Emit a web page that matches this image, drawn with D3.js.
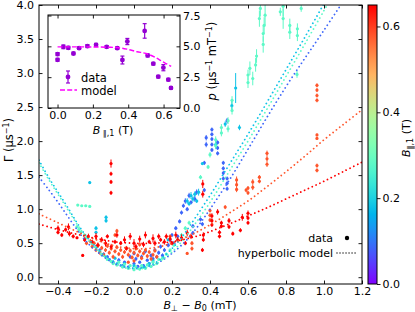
<!DOCTYPE html>
<html>
<head>
<meta charset="utf-8">
<script src="https://cdn.jsdelivr.net/npm/d3@7"></script>
<style>
  body { margin: 0; background: #fff; }
  text { font-family: "DejaVu Sans", sans-serif; }
</style>
</head>
<body>
<div id="chart"></div>
<script>
// ---- data ----
// in-plane field of each measured series (T), used for the colour
const seriesField = [0.085, 0.18, 0.28, 0.58, 0.65];

// [B_perp - B0 (mT), Gamma (us^-1), error]
const bluePoints = [
  [-0.2,0.45,0.02],[-0.18,0.4,0.02],[-0.16,0.34,0.02],[-0.14,0.3,0.02],[-0.13,0.26,0.02],[-0.11,0.22,0.02],
  [-0.09,0.19,0.02],[-0.08,0.25,0.03],[-0.06,0.17,0.02],[-0.05,0.22,0.02],[-0.03,0.15,0.02],[-0.02,0.3,0.03],
  [0.0,0.2,0.02],[0.0,0.35,0.03],[0.01,0.27,0.03],[0.02,0.16,0.02],[0.03,0.22,0.02],[0.04,0.3,0.03],
  [0.05,0.17,0.02],[0.06,0.38,0.03],[0.07,0.25,0.02],[0.08,0.2,0.02],[0.09,0.32,0.03],[0.1,0.27,0.03],
  [0.11,0.4,0.03],[0.12,0.3,0.02],[0.13,0.36,0.03],[0.14,0.45,0.03],[0.15,0.32,0.03],[0.16,0.4,0.03],
  [0.18,0.47,0.03],[0.19,0.55,0.03],[0.2,0.62,0.03],[0.21,0.5,0.03],[0.22,0.72,0.03],[0.23,0.6,0.03],
  [0.24,0.82,0.03],[0.25,0.95,0.03],[0.26,1.05,0.03],[0.27,1.12,0.04],[0.28,1.0,0.03],[0.29,1.2,0.04],
  [0.3,1.1,0.03],[0.31,0.75,0.03],[0.31,0.65,0.03],[0.32,1.15,0.04],[0.33,1.25,0.04],[0.35,0.85,0.03],
  [0.36,0.78,0.03],[0.37,1.68,0.03],[0.37,1.28,0.03],[0.38,1.95,0.04],[0.38,2.05,0.04],[0.41,1.87,0.03],
  [0.41,1.95,0.03],[0.41,2.03,0.03],[0.41,2.1,0.03],[0.41,2.17,0.03],[0.44,1.82,0.03],[0.44,1.9,0.03],
  [0.44,1.98,0.03],[0.47,1.45,0.03],[0.47,1.53,0.03],[0.47,1.6,0.03],[0.47,1.68,0.03],[0.49,1.3,0.03],
  [0.49,1.38,0.03],[0.49,1.45,0.03],[0.49,2.3,0.04]
];
const cyanPoints = [
  [-0.233,1.39,0.02],[-0.2,0.72,0.03],[-0.2,0.66,0.02],[-0.147,0.88,0.03],[-0.147,0.83,0.03],
  [-0.1,0.28,0.02],[-0.05,0.2,0.02],[0.0,0.17,0.02],[0.05,0.15,0.02],[0.08,0.2,0.02],[0.1,0.24,0.02],
  [0.18,0.55,0.02],[0.28,1.12,0.04],[0.29,1.08,0.03],[0.3,1.2,0.05],[0.31,1.15,0.04],[0.32,1.22,0.04],
  [0.33,1.12,0.03],[0.34,1.25,0.05],[0.36,1.67,0.02],[0.43,1.95,0.06],[0.48,2.25,0.04],[0.515,2.52,0.08],
  [0.535,2.78,0.22],[0.555,2.2,0.04]
];
const greenPoints = [
  [-0.22,0.5,0.02],[-0.2,0.44,0.02],[-0.18,0.38,0.02],[-0.17,0.33,0.02],[-0.15,0.3,0.02],[-0.14,0.26,0.02],
  [-0.12,0.23,0.02],[-0.11,0.2,0.02],[-0.09,0.18,0.02],[-0.08,0.22,0.02],[-0.06,0.15,0.02],[-0.05,0.19,0.02],
  [-0.03,0.13,0.02],[-0.02,0.17,0.02],[0.0,0.11,0.02],[0.01,0.15,0.02],[0.03,0.12,0.02],[0.04,0.17,0.02],
  [0.06,0.13,0.02],[0.07,0.18,0.02],[0.09,0.16,0.02],[0.1,0.22,0.02],[0.12,0.2,0.02],[0.13,0.26,0.02],
  [0.15,0.28,0.02],[0.17,0.34,0.02],[0.19,0.4,0.02],[0.21,0.47,0.02],[0.23,0.55,0.03],[0.25,0.62,0.03],
  [0.27,0.72,0.03],[0.29,0.8,0.03],
  [-0.3,0.74,0.02],[-0.29,0.7,0.02],[-0.28,0.66,0.02],[-0.26,0.62,0.02],[-0.25,0.58,0.02],
  [-0.296,1.06,0.01],[-0.275,1.05,0.01],[-0.254,1.05,0.01],[-0.233,1.04,0.01],
  [0.35,1.47,0.03],[0.39,1.62,0.03],[0.4,1.8,0.04],[0.43,1.93,0.05],[0.43,2.02,0.05],[0.46,2.12,0.05],
  [0.46,2.2,0.05],[0.495,2.18,0.05],[0.495,2.3,0.05],[0.516,2.45,0.06],[0.516,2.6,0.06],[0.6,2.86,0.08],
  [0.6,2.97,0.08],[0.61,3.07,0.1],[0.625,2.92,0.1],[0.64,3.12,0.1],[0.645,3.25,0.1],[0.66,3.8,0.12],
  [0.665,3.95,0.12],[0.68,3.42,0.12],[0.68,3.58,0.12],[0.685,3.7,0.12],[0.69,3.85,0.15],[0.77,3.9,0.06],
  [0.785,3.8,0.15],[0.785,3.98,0.15],[0.82,3.6,0.1],[0.82,3.7,0.1],[0.86,3.55,0.08],[0.86,3.65,0.08],
  [0.858,2.98,0.05],[0.88,3.95,0.05]
];
const orangePoints = [
  [-0.26,0.56,0.03],[-0.25,0.5,0.03],[-0.23,0.53,0.03],[-0.22,0.45,0.03],[-0.21,0.5,0.03],[-0.2,0.4,0.03],
  [-0.19,0.47,0.03],[-0.18,0.36,0.03],[-0.17,0.43,0.03],[-0.16,0.33,0.03],[-0.15,0.4,0.03],[-0.14,0.46,0.03],
  [-0.13,0.36,0.03],[-0.12,0.42,0.03],[-0.11,0.3,0.03],[-0.1,0.38,0.03],[-0.09,0.44,0.03],[-0.08,0.34,0.03],
  [-0.07,0.4,0.03],[-0.06,0.3,0.03],[-0.05,0.37,0.03],[-0.04,0.43,0.03],[-0.03,0.33,0.03],[-0.02,0.39,0.03],
  [-0.01,0.29,0.03],[0.0,0.36,0.03],[0.01,0.42,0.03],[0.02,0.32,0.03],[0.03,0.38,0.03],[0.04,0.28,0.03],
  [0.05,0.35,0.03],[0.06,0.4,0.03],[0.07,0.31,0.03],[0.08,0.37,0.03],[0.09,0.27,0.03],[0.1,0.33,0.03],
  [0.11,0.39,0.03],[0.12,0.3,0.03],[-0.1,0.62,0.03],[-0.09,0.68,0.03],[0.03,0.48,0.03],[-0.03,0.22,0.02],
  [0.0,0.24,0.02],
  [0.19,0.6,0.03],[0.28,0.35,0.02],[0.305,0.42,0.03],[0.305,0.5,0.03],[0.4,0.84,0.03],[0.4,0.91,0.03],
  [0.4,0.98,0.03],[0.48,1.03,0.03],[0.54,1.29,0.04],[0.54,1.36,0.04],[0.54,1.43,0.05],[0.59,1.28,0.03],
  [0.6,1.24,0.03],[0.6,1.31,0.03],[0.625,1.32,0.04],[0.625,1.4,0.04],[0.66,1.41,0.03],[0.66,1.47,0.03],
  [0.7,1.66,0.04],[0.7,1.74,0.04],[0.7,1.82,0.04],[0.963,1.57,0.03],[0.963,1.64,0.03],[0.963,2.04,0.02],
  [0.963,2.09,0.02],[0.963,2.6,0.03],[0.963,2.67,0.03],[0.963,2.75,0.03],[0.963,2.82,0.03]
];
const redPoints = [
  [-0.121,1.67,0.06],[-0.121,1.52,0.03],[-0.121,1.4,0.03],[-0.121,1.24,0.03],
  [-0.4,0.72,0.04],[-0.4,0.66,0.03],[-0.38,0.62,0.03],[-0.36,0.7,0.03],[-0.345,0.74,0.05],[-0.34,0.64,0.04],
  [-0.32,0.6,0.03],[-0.3,0.58,0.02],[-0.27,0.32,0.02],[-0.26,0.55,0.03],[-0.24,0.6,0.04],[-0.22,0.52,0.03],
  [-0.2,0.6,0.05],[-0.19,0.47,0.04],[-0.17,0.55,0.04],[-0.15,0.5,0.05],[-0.14,0.6,0.03],[-0.12,0.45,0.04],
  [-0.1,0.52,0.03],[-0.09,0.62,0.04],[-0.07,0.5,0.03],[-0.05,0.55,0.05],[-0.04,0.42,0.03],[-0.02,0.6,0.05],
  [0.0,0.5,0.06],[0.01,0.45,0.04],[0.03,0.56,0.05],[0.05,0.48,0.04],[0.06,0.62,0.05],[0.08,0.52,0.03],
  [0.1,0.57,0.06],[0.11,0.5,0.04],[0.13,0.6,0.04],[0.14,0.55,0.03],[0.16,0.52,0.04],[0.17,0.6,0.04],
  [0.19,0.56,0.05],[0.2,0.5,0.03],[0.22,0.62,0.05],[0.23,0.55,0.04],[0.25,0.58,0.05],[0.27,0.5,0.03],
  [0.28,0.65,0.05],[0.3,0.6,0.04],
  [0.362,1.37,0.06],[0.362,1.22,0.05],[0.36,0.4,0.03],[0.365,0.62,0.04],[0.365,0.55,0.03],[0.41,0.9,0.04],
  [0.41,0.83,0.03],[0.41,0.77,0.03],[0.44,0.96,0.04],[0.45,0.66,0.03],[0.45,0.6,0.03],[0.46,0.8,0.03],
  [0.46,0.75,0.03],[0.5,0.83,0.04],[0.5,0.74,0.03],[0.52,0.64,0.03],[0.56,0.69,0.03],[0.57,0.88,0.05],
  [0.6,0.94,0.04],[0.6,0.87,0.03],[0.6,0.8,0.03]
];
const seriesPoints = [bluePoints, cyanPoints, greenPoints, orangePoints, redPoints];

// hyperbolic model curves, sampled from the figure: [B_perp - B0, Gamma]
const blueModel = [
  [-0.5,1.47],[-0.45,1.29],[-0.4,1.1],[-0.35,0.9],[-0.3,0.7],[-0.25,0.52],[-0.2,0.39],[-0.15,0.28],
  [-0.1,0.2],[-0.05,0.15],[0.0,0.13],[0.05,0.14],[0.1,0.18],[0.15,0.25],[0.2,0.35],[0.25,0.47],
  [0.3,0.62],[0.35,0.8],[0.4,1.0],[0.5,1.42],[0.6,1.88],[0.7,2.35],[0.8,2.8],[0.9,3.22],[1.0,3.63],[1.1,4.05]
];
const cyanModel = [
  [-0.5,1.72],[-0.45,1.47],[-0.4,1.25],[-0.35,1.03],[-0.3,0.8],[-0.25,0.6],[-0.2,0.44],[-0.15,0.31],
  [-0.1,0.22],[-0.05,0.16],[0.0,0.13],[0.05,0.14],[0.1,0.19],[0.15,0.29],[0.2,0.42],[0.25,0.58],
  [0.3,0.78],[0.4,1.2],[0.5,1.65],[0.6,2.1],[0.7,2.57],[0.8,3.05],[0.9,3.53],[1.0,4.02]
];
const greenModel = [
  [-0.5,1.68],[-0.45,1.44],[-0.4,1.22],[-0.35,1.0],[-0.3,0.78],[-0.25,0.58],[-0.2,0.42],[-0.15,0.29],
  [-0.1,0.2],[-0.05,0.14],[0.0,0.12],[0.05,0.13],[0.1,0.17],[0.15,0.26],[0.2,0.37],[0.25,0.52],
  [0.3,0.7],[0.4,1.1],[0.5,1.55],[0.6,2.0],[0.7,2.47],[0.8,2.95],[0.9,3.43],[1.0,3.92],[1.02,4.02]
];
const orangeModel = [
  [-0.5,0.93],[-0.4,0.8],[-0.3,0.67],[-0.2,0.55],[-0.1,0.46],[0.0,0.42],[0.1,0.43],[0.2,0.5],
  [0.3,0.62],[0.4,0.77],[0.5,0.94],[0.6,1.12],[0.7,1.33],[0.8,1.55],[0.9,1.78],[1.0,2.02],[1.1,2.24],[1.2,2.46]
];
const redModel = [
  [-0.5,0.78],[-0.4,0.7],[-0.3,0.63],[-0.2,0.57],[-0.1,0.52],[0.0,0.5],[0.1,0.5],[0.2,0.52],
  [0.3,0.58],[0.35,0.62],[0.4,0.67],[0.5,0.78],[0.6,0.9],[0.7,1.02],[0.8,1.15],[0.9,1.28],[1.0,1.41],[1.1,1.55],[1.2,1.69]
];
const modelCurves = [blueModel, cyanModel, greenModel, orangeModel, redModel];

// inset: slope p vs in-plane field
const insetField = [0.0,0.0,0.033,0.061,0.09,0.122,0.169,0.218,0.278,0.338,0.367,0.395,0.493,0.51,0.542,0.57,0.599,0.627,0.642];
const insetSlope = [4.37,3.91,4.96,4.88,4.42,4.85,5.02,5.12,4.96,4.85,3.89,5.39,6.25,4.26,3.59,2.54,3.27,2.3,1.63];
const insetErr   = [0.12,0.12,0.15,0.12,0.1,0.1,0.12,0.12,0.1,0.1,0.32,0.25,0.59,0.12,0.1,0.1,0.25,0.1,0.1];
const insetModelField = [0.0,0.1,0.2,0.3,0.337,0.393,0.45,0.5,0.55,0.59,0.62,0.643];
const insetModelSlope = [4.96,4.96,4.95,4.92,4.9,4.77,4.56,4.42,4.13,3.8,3.56,3.37];

const xTicks = [-0.4,-0.2,0.0,0.2,0.4,0.6,0.8,1.0,1.2];
const yTicks = [0.0,0.5,1.0,1.5,2.0,2.5,3.0,3.5,4.0];
const cTicks = [0.0,0.2,0.4,0.6];
const insetXTicks = [0.0,0.2,0.4,0.6];
const insetYTicks = [0.0,2.5,5.0,7.5];

// ---- drawing ----
const W = 415, H = 312;
const M = { left: 39, right: 362, top: 5, bottom: 284 };
const fmt = d3.format(".1f");

// matplotlib "rainbow" colormap
function rainbow(t) {
  t = Math.max(0, Math.min(1, t));
  const r = Math.min(1, Math.abs(2 * t - 0.5));
  const g = Math.sin(Math.PI * t);
  const b = Math.cos(Math.PI * t / 2);
  return d3.rgb(r * 255, g * 255, b * 255).formatHex();
}

const svg = d3.select("#chart").append("svg")
  .attr("width", W).attr("height", H)
  .attr("viewBox", [0, 0, W, H]);

const x = d3.scaleLinear().domain([-0.5, 1.2]).range([M.left, M.right]);
const y = d3.scaleLinear().domain([-0.1, 4.0]).range([M.bottom, M.top]);
const cNorm = d3.scaleLinear().domain([0, 0.65]).range([0, 1]);

svg.append("clipPath").attr("id", "plotclip").append("rect")
  .attr("x", M.left).attr("y", M.top)
  .attr("width", M.right - M.left).attr("height", M.bottom - M.top);

const plot = svg.append("g").attr("clip-path", "url(#plotclip)");

// data with error bars
seriesPoints.forEach((pts, i) => {
  const col = rainbow(cNorm(seriesField[i]));
  const g = plot.append("g");
  g.selectAll("line").data(pts).join("line")
    .attr("x1", d => x(d[0])).attr("x2", d => x(d[0]))
    .attr("y1", d => y(d[1] - d[2])).attr("y2", d => y(d[1] + d[2]))
    .attr("stroke", col).attr("stroke-width", 1);
  g.selectAll("circle").data(pts).join("circle")
    .attr("cx", d => x(d[0])).attr("cy", d => y(d[1]))
    .attr("r", 1.6).attr("fill", col);
});

// dotted model curves
const line = d3.line().x(d => x(d[0])).y(d => y(d[1])).curve(d3.curveCatmullRom);
modelCurves.forEach((pts, i) => {
  plot.append("path")
    .attr("d", line(pts))
    .attr("fill", "none")
    .attr("stroke", rainbow(cNorm(seriesField[i])))
    .attr("stroke-width", 1.8)
    .attr("stroke-linecap", "round")
    .attr("stroke-dasharray", "0.01 4.2");
});

// axes: ticks inward on all four sides
function styleAxis(g) {
  g.select(".domain").remove();
  g.selectAll(".tick line").attr("stroke", "#000").attr("stroke-width", 0.9);
  g.selectAll(".tick text").attr("font-size", 11).attr("fill", "#000")
    .attr("font-family", "DejaVu Sans, sans-serif");
}
svg.append("g").attr("transform", `translate(0,${M.bottom})`)
  .call(d3.axisBottom(x).tickValues(xTicks).tickFormat(fmt).tickSize(-3.5).tickPadding(3))
  .call(styleAxis);
svg.append("g").attr("transform", `translate(0,${M.top})`)
  .call(d3.axisTop(x).tickValues(xTicks).tickFormat("").tickSize(-3.5))
  .call(styleAxis);
svg.append("g").attr("transform", `translate(${M.left},0)`)
  .call(d3.axisLeft(y).tickValues(yTicks).tickFormat(fmt).tickSize(-3.5).tickPadding(5))
  .call(styleAxis);
svg.append("g").attr("transform", `translate(${M.right},0)`)
  .call(d3.axisRight(y).tickValues(yTicks).tickFormat("").tickSize(-3.5))
  .call(styleAxis);
svg.append("rect")
  .attr("x", M.left).attr("y", M.top)
  .attr("width", M.right - M.left).attr("height", M.bottom - M.top)
  .attr("fill", "none").attr("stroke", "#000").attr("stroke-width", 1);

// axis labels
const xl = svg.append("text").attr("x", 200).attr("y", 308.5)
  .attr("text-anchor", "middle").attr("font-size", 11);
xl.append("tspan").attr("font-style", "italic").text("B");
xl.append("tspan").attr("font-size", 8).attr("dy", 2.5).text("⊥");
xl.append("tspan").attr("dy", -2.5).text(" − ");
xl.append("tspan").attr("font-style", "italic").text("B");
xl.append("tspan").attr("font-size", 8).attr("dy", 2.5).text("0");
xl.append("tspan").attr("dy", -2.5).text(" (mT)");

const yl = svg.append("text")
  .attr("transform", "translate(13,140) rotate(-90)")
  .attr("text-anchor", "middle").attr("font-size", 11.5);
yl.append("tspan").text("Γ (μs");
yl.append("tspan").attr("font-size", 8).attr("dy", -4.5).text("−1");
yl.append("tspan").attr("dy", 4.5).text(")");

// main legend
svg.append("text").attr("x", 333).attr("y", 242).attr("text-anchor", "end")
  .attr("font-size", 11).text("data");
svg.append("circle").attr("cx", 347).attr("cy", 238).attr("r", 2.2).attr("fill", "#000");
svg.append("text").attr("x", 333).attr("y", 257).attr("text-anchor", "end")
  .attr("font-size", 11).text("hyperbolic model");
svg.append("line").attr("x1", 337).attr("x2", 356).attr("y1", 253).attr("y2", 253)
  .attr("stroke", "#000").attr("stroke-width", 1.3)
  .attr("stroke-linecap", "round").attr("stroke-dasharray", "0.01 3");

// colourbar
const cb = { x: 368, w: 9 };
const cy = d3.scaleLinear().domain([0, 0.65]).range([M.bottom, M.top]);
const grad = svg.append("defs").append("linearGradient").attr("id", "cbgrad")
  .attr("x1", 0).attr("y1", 1).attr("x2", 0).attr("y2", 0);
d3.range(0, 1.0001, 0.05).forEach(t => {
  grad.append("stop").attr("offset", t).attr("stop-color", rainbow(t));
});
svg.append("rect").attr("x", cb.x).attr("y", M.top)
  .attr("width", cb.w).attr("height", M.bottom - M.top)
  .attr("fill", "url(#cbgrad)").attr("stroke", "#000").attr("stroke-width", 1);
svg.append("g").attr("transform", `translate(${cb.x + cb.w},0)`)
  .call(d3.axisRight(cy).tickValues(cTicks).tickFormat(fmt).tickSize(3.5).tickPadding(2))
  .call(styleAxis);
const cl = svg.append("text")
  .attr("transform", "translate(410,138) rotate(-90)")
  .attr("text-anchor", "middle").attr("font-size", 11);
cl.append("tspan").attr("font-style", "italic").text("B");
cl.append("tspan").attr("font-size", 8).attr("dy", 2.5).text("∥,1");
cl.append("tspan").attr("dy", -2.5).text(" (T)");

// ---- inset ----
const I = { left: 48, right: 180, top: 15, bottom: 108 };
const ix = d3.scaleLinear().domain([-0.054, 0.693]).range([I.left, I.right]);
const iy = d3.scaleLinear().domain([0, 7.5]).range([I.bottom, I.top + 0.5]);
const purple = "#9400d3";

svg.append("rect").attr("x", I.left).attr("y", I.top)
  .attr("width", I.right - I.left).attr("height", I.bottom - I.top)
  .attr("fill", "#fff");

const inset = svg.append("g");
const insetRows = insetField.map((b, i) => [b, insetSlope[i], insetErr[i]]);
inset.selectAll("line.err").data(insetRows).join("line").attr("class", "err")
  .attr("x1", d => ix(d[0])).attr("x2", d => ix(d[0]))
  .attr("y1", d => iy(d[1] - d[2])).attr("y2", d => iy(d[1] + d[2]))
  .attr("stroke", purple).attr("stroke-width", 1.2);
inset.selectAll("line.cap").data(insetRows.flatMap(d => [[d[0], d[1] - d[2]], [d[0], d[1] + d[2]]]))
  .join("line").attr("class", "cap")
  .attr("x1", d => ix(d[0]) - 2).attr("x2", d => ix(d[0]) + 2)
  .attr("y1", d => iy(d[1])).attr("y2", d => iy(d[1]))
  .attr("stroke", purple).attr("stroke-width", 1.2);
inset.selectAll("circle").data(insetRows).join("circle")
  .attr("cx", d => ix(d[0])).attr("cy", d => iy(d[1]))
  .attr("r", 2.4).attr("fill", purple);

const insetLine = d3.line().x(d => ix(d[0])).y(d => iy(d[1])).curve(d3.curveMonotoneX);
inset.append("path")
  .attr("d", insetLine(insetModelField.map((b, i) => [b, insetModelSlope[i]])))
  .attr("fill", "none").attr("stroke", "#ff00ff").attr("stroke-width", 1.4)
  .attr("stroke-dasharray", "5 2.2");

svg.append("g").attr("transform", `translate(0,${I.bottom})`)
  .call(d3.axisBottom(ix).tickValues(insetXTicks).tickFormat(fmt).tickSize(-3.5).tickPadding(3))
  .call(styleAxis);
svg.append("g").attr("transform", `translate(0,${I.top})`)
  .call(d3.axisTop(ix).tickValues(insetXTicks).tickFormat("").tickSize(-3.5))
  .call(styleAxis);
svg.append("g").attr("transform", `translate(${I.right},0)`)
  .call(d3.axisRight(iy).tickValues(insetYTicks).tickFormat(fmt).tickSize(-3.5).tickPadding(3))
  .call(styleAxis);
svg.append("g").attr("transform", `translate(${I.left},0)`)
  .call(d3.axisLeft(iy).tickValues(insetYTicks).tickFormat("").tickSize(-3.5))
  .call(styleAxis);
svg.append("rect").attr("x", I.left).attr("y", I.top)
  .attr("width", I.right - I.left).attr("height", I.bottom - I.top)
  .attr("fill", "none").attr("stroke", "#000").attr("stroke-width", 1);

// inset labels
const ixl = svg.append("text").attr("x", 113).attr("y", 133.5)
  .attr("text-anchor", "middle").attr("font-size", 11);
ixl.append("tspan").attr("font-style", "italic").text("B");
ixl.append("tspan").attr("font-size", 8).attr("dy", 2.5).text(" ∥,1");
ixl.append("tspan").attr("dy", -2.5).text(" (T)");

const iyl = svg.append("text")
  .attr("transform", "translate(216,61) rotate(-90)")
  .attr("text-anchor", "middle").attr("font-size", 11.5);
iyl.append("tspan").attr("font-style", "italic").text("p");
iyl.append("tspan").text(" (μs");
iyl.append("tspan").attr("font-size", 8).attr("dy", -4.5).text("−1");
iyl.append("tspan").attr("dy", 4.5).text(" mT");
iyl.append("tspan").attr("font-size", 8).attr("dy", -4.5).text("−1");
iyl.append("tspan").attr("dy", 4.5).text(")");

// inset legend
svg.append("line").attr("x1", 68).attr("x2", 68).attr("y1", 71).attr("y2", 83)
  .attr("stroke", purple).attr("stroke-width", 1.2);
svg.append("line").attr("x1", 66).attr("x2", 70).attr("y1", 71).attr("y2", 71)
  .attr("stroke", purple).attr("stroke-width", 1.2);
svg.append("line").attr("x1", 66).attr("x2", 70).attr("y1", 83).attr("y2", 83)
  .attr("stroke", purple).attr("stroke-width", 1.2);
svg.append("circle").attr("cx", 68).attr("cy", 77).attr("r", 2.4).attr("fill", purple);
svg.append("text").attr("x", 81).attr("y", 81.5).attr("font-size", 11.5).text("data");
svg.append("line").attr("x1", 60).attr("x2", 77).attr("y1", 90).attr("y2", 90)
  .attr("stroke", "#ff00ff").attr("stroke-width", 1.4).attr("stroke-dasharray", "5 2.2");
svg.append("text").attr("x", 81).attr("y", 94.5).attr("font-size", 11.5).text("model");
</script>
</body>
</html>
